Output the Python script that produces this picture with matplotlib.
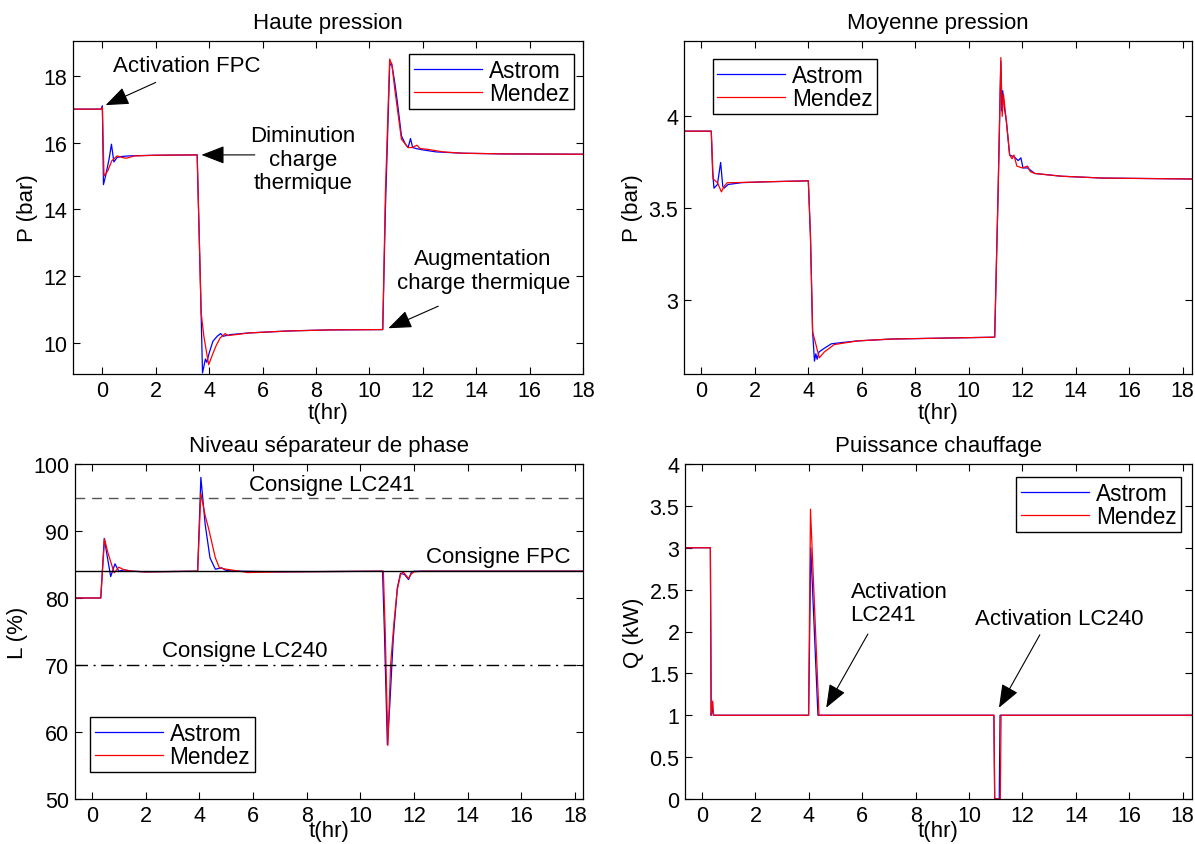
import matplotlib
matplotlib.use("Agg")
import matplotlib.pyplot as plt

plt.rcParams.update({
    "font.family": ["Liberation Sans", "DejaVu Sans"],
    "font.size": 16,
    "axes.linewidth": 0.9,
    "xtick.direction": "in",
    "ytick.direction": "in",
    "xtick.top": True,
    "ytick.right": True,
    "xtick.major.size": 5,
    "ytick.major.size": 5,
})

BLUE = "#0000ff"
RED = "#ff0000"

# --- Haute pression ---
hp_t_astrom = [-1.1, -0.05, 0.0, 0.04, 0.12, 0.25, 0.34, 0.43, 0.55, 0.7, 1.0, 2.0,
               3.55, 3.68, 3.75, 3.86, 3.91, 4.0, 4.14, 4.3, 4.43, 4.52, 4.8, 5.5, 7.0,
               8.5, 10.5, 10.6, 10.76, 10.83, 10.95, 11.05, 11.2, 11.35, 11.45, 11.54,
               11.62, 11.75, 12.0, 12.5, 13.5, 15.0, 18.0]
hp_v_astrom = [17.0, 17.0, 17.1, 14.74, 15.0, 15.5, 15.95, 15.42, 15.55, 15.58, 15.6, 15.62,
               15.63, 11.5, 9.1, 9.52, 9.42, 9.7, 10.05, 10.2, 10.28, 10.2, 10.25, 10.3, 10.36,
               10.39, 10.4, 14.0, 18.3, 18.38, 17.8, 17.2, 16.2, 15.95, 15.85, 16.12,
               15.85, 15.82, 15.78, 15.72, 15.68, 15.66, 15.65]
hp_t_mendez = [-1.1, -0.05, 0.0, 0.06, 0.2, 0.35, 0.55, 0.75, 0.9, 1.2, 2.0, 3.55, 3.7,
               3.8, 3.98, 4.1, 4.25, 4.41, 4.6, 4.7, 5.0, 5.5, 7.0, 8.5, 10.5, 10.6, 10.76,
               10.85, 10.95, 11.05, 11.2, 11.35, 11.45, 11.6, 11.78, 11.9, 12.15, 12.76,
               13.5, 15.0, 18.0]
hp_v_mendez = [17.0, 17.0, 17.05, 15.0, 15.15, 15.45, 15.6, 15.55, 15.53, 15.6, 15.62, 15.63,
               10.9, 10.2, 9.35, 9.6, 9.9, 10.15, 10.28, 10.22, 10.25, 10.3, 10.36, 10.39,
               10.4, 14.5, 18.5, 18.3, 17.6, 17.0, 16.1, 15.95, 15.85, 15.85, 15.92, 15.82,
               15.8, 15.72, 15.68, 15.66, 15.65]

# --- Moyenne pression ---
mp_t_astrom = [-0.65, 0.37, 0.42, 0.47, 0.6, 0.72, 0.8, 0.85, 1.0, 1.5, 2.5, 4.0, 4.08,
               4.16, 4.23, 4.28, 4.33, 4.4, 4.6, 4.86, 5.2, 5.85, 7.1, 9.0, 10.97, 11.1,
               11.2, 11.24, 11.27, 11.33, 11.41, 11.53, 11.7, 11.85, 11.95, 12.03, 12.2,
               12.47, 13.47, 15.0, 18.35]
mp_v_astrom = [3.92, 3.92, 3.7, 3.61, 3.63, 3.75, 3.62, 3.61, 3.63, 3.64, 3.645, 3.65, 3.35,
               2.83, 2.67, 2.71, 2.68, 2.72, 2.74, 2.764, 2.77, 2.78, 2.79, 2.795, 2.80, 3.6,
               4.3, 4.03, 4.14, 4.05, 3.97, 3.79, 3.78, 3.76, 3.775, 3.72, 3.72,
               3.69, 3.675, 3.665, 3.66]
mp_t_mendez = [-0.65, 0.37, 0.44, 0.6, 0.75, 0.85, 0.97, 1.2, 2.5, 4.0, 4.08, 4.16, 4.41,
               4.6, 4.97, 5.85, 7.1, 9.0, 10.97, 11.1, 11.2, 11.25, 11.3, 11.41, 11.53,
               11.62, 11.69, 11.8, 12.0, 12.2, 12.3, 12.47, 13.47, 15.0, 18.35]
mp_v_mendez = [3.92, 3.92, 3.66, 3.64, 3.59, 3.62, 3.64, 3.64, 3.645, 3.65, 3.35, 2.83,
               2.688, 2.72, 2.76, 2.78, 2.79, 2.795, 2.80, 3.6, 4.32, 4.0, 4.12, 3.97, 3.79,
               3.77, 3.79, 3.73, 3.72, 3.73, 3.70, 3.69, 3.675, 3.665, 3.66]

# --- Niveau separateur de phase ---
lv_t_astrom = [-0.63, 0.33, 0.46, 0.58, 0.7, 0.86, 1.0, 1.2, 1.5, 2.0, 3.94, 4.06, 4.22,
               4.4, 4.6, 4.84, 5.0, 5.5, 7.0, 10.83, 10.9, 11.01, 11.1, 11.23, 11.38,
               11.5, 11.65, 11.8, 11.9, 12.0, 12.3, 18.3]
lv_v_astrom = [80, 80, 88.9, 86.0, 83.2, 85.1, 84.0, 84.2, 84.0, 83.9, 84, 98, 91,
               86, 84.3, 84.5, 84.1, 84.0, 83.9, 84, 75, 58.1, 64, 74, 81.5,
               83.7, 83.5, 82.75, 83.8, 84.0, 84, 84]
lv_t_mendez = [-0.63, 0.33, 0.47, 0.6, 0.83, 1.0, 1.2, 1.5, 2.0, 3.94, 4.06, 4.22, 4.34,
               4.6, 4.75, 5.0, 5.5, 5.8, 7.0, 10.86, 10.93, 11.03, 11.13, 11.26, 11.38,
               11.5, 11.6, 11.8, 11.9, 12.0, 12.3, 18.3]
lv_v_mendez = [80, 80, 88.8, 86.7, 83.75, 84.6, 84.2, 84.0, 83.9, 84, 95.6, 92.3, 90.5,
               86.0, 84.5, 84.3, 84.0, 83.8, 83.9, 84, 75, 58.0, 70, 76.5, 81.25,
               83.5, 83.9, 82.9, 83.6, 83.9, 84, 84]
consigne_lc241 = 95
consigne_fpc = 84
consigne_lc240 = 70

# --- Puissance chauffage ---
q_t_astrom = [-0.64, 0.31, 0.34, 0.38, 0.42, 0.45, 3.99, 4.07, 4.34, 10.93, 10.96,
              11.13, 11.16, 18.35]
q_v_astrom = [3, 3, 1.0, 1.1, 1.0, 1.0, 1.0, 3.0, 1.0, 1.0, 0.0, 0.0, 1.0, 1.0]
q_t_mendez = [-0.64, 0.31, 0.34, 0.4, 0.43, 0.45, 3.99, 4.06, 4.38, 10.93, 10.96,
              11.17, 11.2, 18.35]
q_v_mendez = [3, 3, 1.0, 1.17, 1.0, 1.0, 1.0, 3.46, 1.0, 1.0, 0.0, 0.0, 1.0, 1.0]

W, H = 1195, 845
fig = plt.figure(figsize=(W / 100, H / 100), dpi=100)


def box(x0, y0, x1, y1):
    # pixel box (top-left origin) -> figure fraction
    return [x0 / W, 1 - y1 / H, (x1 - x0) / W, (y1 - y0) / H]


ax1 = fig.add_axes(box(73, 42, 583, 375))
ax2 = fig.add_axes(box(684, 42, 1192, 375))
ax3 = fig.add_axes(box(75, 465, 583, 800))
ax4 = fig.add_axes(box(685, 465, 1192, 800))

lw = 0.9
arrow = dict(arrowstyle="-|>,head_length=0.9,head_width=0.35", color="k", lw=0.8,
             shrinkA=0, shrinkB=0)
leg_kw = dict(frameon=True, fancybox=False, edgecolor="k", framealpha=1,
              handlelength=3.0, handletextpad=0.3, borderpad=0.2, labelspacing=0.0,
              borderaxespad=0, fontsize=16.3)


def arrow_to(ax, head, tail):
    ax.annotate("", xy=head, xytext=tail, arrowprops=arrow)


# Haute pression
ax1.plot(hp_t_astrom, hp_v_astrom, color=BLUE, lw=lw, label="Astrom")
ax1.plot(hp_t_mendez, hp_v_mendez, color=RED, lw=lw, label="Mendez")
ax1.set_xlim(-1.1, 18)
ax1.set_ylim(9.07, 19.04)
ax1.set_xticks(range(0, 19, 2))
ax1.set_yticks([10, 12, 14, 16, 18])
ax1.set_title("Haute pression", fontsize=16, pad=9)
ax1.set_ylabel("P (bar)")
ax1.set_xlabel("t(hr)", labelpad=1)
ax1.legend(loc="upper right", bbox_to_anchor=(0.982, 0.961), **leg_kw)
ax1.text(0.4, 18.3, "Activation FPC", ha="left", va="center")
arrow_to(ax1, (0.12, 17.12), (2.0, 17.8))
ax1.text(7.5, 15.5, "Diminution\ncharge\nthermique", ha="center", va="center",
         linespacing=1.15)
arrow_to(ax1, (3.71, 15.63), (5.71, 15.63))
ax1.text(14.26, 12.17, "Augmentation\ncharge thermique", ha="center", va="center",
         linespacing=1.15)
arrow_to(ax1, (10.71, 10.44), (12.58, 11.1))

# Moyenne pression
ax2.plot(mp_t_astrom, mp_v_astrom, color=BLUE, lw=lw, label="Astrom")
ax2.plot(mp_t_mendez, mp_v_mendez, color=RED, lw=lw, label="Mendez")
ax2.set_xlim(-0.65, 18.35)
ax2.set_ylim(2.6, 4.41)
ax2.set_xticks(range(0, 19, 2))
ax2.set_yticks([3, 3.5, 4])
ax2.set_yticklabels(["3", "3.5", "4"])
ax2.set_title("Moyenne pression", fontsize=16, pad=9)
ax2.set_ylabel("P (bar)")
ax2.set_xlabel("t(hr)", labelpad=1)
ax2.legend(loc="upper left", bbox_to_anchor=(0.057, 0.946), **leg_kw)

# Niveau
ax3.plot(lv_t_astrom, lv_v_astrom, color=BLUE, lw=lw, label="Astrom")
ax3.plot(lv_t_mendez, lv_v_mendez, color=RED, lw=lw, label="Mendez")
ax3.axhline(consigne_lc241, color="#555555", lw=1.0, ls=(0, (7, 5)))
ax3.axhline(consigne_fpc, color="k", lw=1.0)
ax3.axhline(consigne_lc240, color="k", lw=1.0, ls=(0, (9, 4, 1.5, 4)))
ax3.set_xlim(-0.63, 18.3)
ax3.set_ylim(50, 100)
ax3.set_xticks(range(0, 19, 2))
ax3.set_yticks(range(50, 101, 10))
ax3.set_title("Niveau séparateur de phase", fontsize=16, pad=9)
ax3.set_ylabel("L (%)")
ax3.set_xlabel("t(hr)", labelpad=-4)
ax3.text(8.94, 96.95, "Consigne LC241", ha="center", va="center")
ax3.text(17.85, 86.2, "Consigne FPC", ha="right", va="center")
ax3.text(5.68, 72.2, "Consigne LC240", ha="center", va="center")
ax3.legend(loc="lower left", bbox_to_anchor=(0.03, 0.08), **leg_kw)

# Puissance chauffage
ax4.plot(q_t_astrom, q_v_astrom, color=BLUE, lw=lw, label="Astrom")
ax4.plot(q_t_mendez, q_v_mendez, color=RED, lw=lw, label="Mendez")
ax4.set_xlim(-0.64, 18.35)
ax4.set_ylim(0, 4)
ax4.set_xticks(range(0, 19, 2))
ax4.set_yticks([0, 0.5, 1, 1.5, 2, 2.5, 3, 3.5, 4])
ax4.set_yticklabels(["0", "0.5", "1", "1.5", "2", "2.5", "3", "3.5", "4"])
ax4.set_title("Puissance chauffage", fontsize=16, pad=9)
ax4.set_ylabel("Q (kW)")
ax4.set_xlabel("t(hr)", labelpad=-4)
ax4.legend(loc="upper right", bbox_to_anchor=(0.978, 0.961), **leg_kw)
ax4.text(5.56, 2.34, "Activation\nLC241", ha="left", va="center", linespacing=1.15)
arrow_to(ax4, (4.65, 1.09), (6.21, 1.97))
ax4.text(13.37, 2.15, "Activation LC240", ha="center", va="center")
arrow_to(ax4, (11.12, 1.09), (12.65, 1.96))

for ax in (ax1, ax2, ax3, ax4):
    ax.tick_params(labelsize=15.5, pad=4)

fig.savefig("out.png", dpi=100)
